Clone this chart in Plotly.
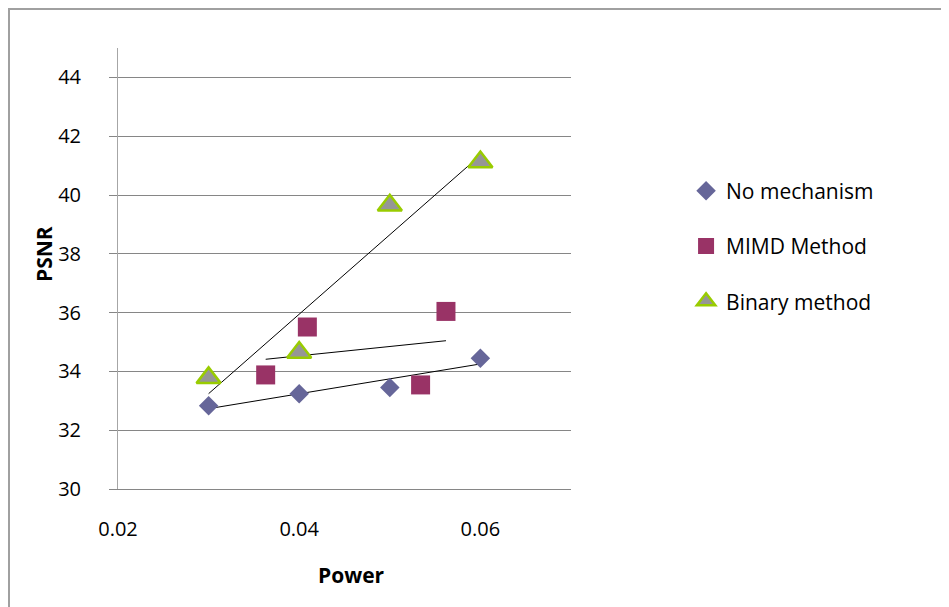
import numpy as np
import plotly.graph_objects as go

# Data
no_mech_x = [0.03, 0.04, 0.05, 0.06]
no_mech_y = [32.83, 33.24, 33.45, 34.45]

mimd_x = [0.0363, 0.0409, 0.0534, 0.0562]
mimd_y = [33.88, 35.51, 33.54, 36.04]

binary_x = [0.03, 0.04, 0.05, 0.06]
binary_y = [33.78, 34.64, 39.65, 41.12]

x_ticks = [0.02, 0.04, 0.06]
x_tick_labels = ["0.02", "0.04", "0.06"]
y_ticks = [30, 32, 34, 36, 38, 40, 42, 44]
y_tick_labels = ["30", "32", "34", "36", "38", "40", "42", "44"]

FONT = "Open Sans"
FS = 20

fig = go.Figure()

series = [
    ("No mechanism", no_mech_x, no_mech_y,
     dict(symbol="diamond", size=15, color="#666699", line=dict(width=0))),
    ("MIMD Method", mimd_x, mimd_y,
     dict(symbol="square", size=19, color="#993366", line=dict(width=0))),
    ("Binary method", binary_x, binary_y,
     dict(symbol="triangle-up", size=21, color="#969696", line=dict(width=2.5, color="#99CC00"))),
]

# linear trendlines (least squares fit of each series)
for name, xs, ys, mk in series:
    k, b = np.polyfit(xs, ys, 1)
    tx = [min(xs), max(xs)]
    fig.add_trace(go.Scatter(
        x=tx, y=[k * v + b for v in tx], mode="lines",
        line=dict(color="black", width=1), showlegend=False, hoverinfo="skip"))

for i, (name, xs, ys, mk) in enumerate(series):
    fig.add_trace(go.Scatter(
        x=xs, y=ys, mode="markers", name=name, marker=mk,
        legendgroup="g%d" % i))

fig.update_layout(
    width=949, height=607,
    margin=dict(l=110, r=386, t=40, b=126),
    paper_bgcolor="white", plot_bgcolor="white",
    font=dict(family=FONT, size=FS, color="black"),
    showlegend=True,
    legend=dict(x=1.254, y=0.722, xanchor="left", yanchor="top",
                font=dict(family=FONT, size=21, color="black"),
                tracegroupgap=25, itemwidth=30, bgcolor="rgba(0,0,0,0)"),
    xaxis=dict(range=[0.02, 0.07], tickvals=x_ticks, ticktext=x_tick_labels,
               showgrid=False, zeroline=False, showline=True,
               linecolor="#868686", linewidth=1, ticks="",
               ticklabelstandoff=22, tickfont=dict(family=FONT, size=FS)),
    yaxis=dict(range=[30, 45], tickvals=y_ticks, ticktext=y_tick_labels,
               showgrid=True, gridcolor="#868686", gridwidth=1,
               zeroline=False, showline=True, linecolor="#a6a6a6", linewidth=1,
               ticks="outside", ticklen=8, tickcolor="#868686",
               ticklabelstandoff=24, tickfont=dict(family=FONT, size=FS)),
    annotations=[
        dict(text="<b>PSNR</b>", xref="paper", yref="paper",
             x=(44 - 118) / 453, y=(489 - 254) / 441, textangle=-90,
             showarrow=False, font=dict(family=FONT, size=21, color="black"),
             xanchor="center", yanchor="middle"),
        dict(text="<b>Power</b>", xref="paper", yref="paper",
             x=(351 - 118) / 453, y=(489 - 575) / 441,
             showarrow=False, font=dict(family=FONT, size=21, color="black"),
             xanchor="center", yanchor="middle"),
    ],
    shapes=[
        dict(type="rect", xref="paper", yref="paper",
             x0=(1 - 110) / 453, x1=2.5, y0=-0.6, y1=1 + (40 - 1) / 441,
             line=dict(color="#a0a0a0", width=2), fillcolor="rgba(0,0,0,0)",
             layer="below"),
    ],
)

fig.write_html("out.html")
